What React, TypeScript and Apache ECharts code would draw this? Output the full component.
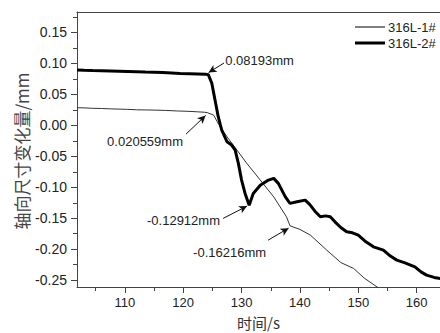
import React, { useEffect, useRef } from "react";
import * as echarts from "echarts";

const seriesNames = ["316L-1#", "316L-2#"];

const thinData: [number, number][] = [
  [101.8, 0.0284], [103, 0.0282], [104.5, 0.0275], [106, 0.0272], [107.5, 0.0266],
  [109, 0.0262], [110.5, 0.0258], [112, 0.0251], [113.5, 0.0249], [115, 0.0246],
  [117, 0.0241], [119, 0.0232], [121, 0.0226], [122.5, 0.0218], [123.6, 0.0212],
  [124.1, 0.0206], [125.2, 0.0166], [126.3, -0.002], [127.5, -0.0184], [129.2, -0.0399],
  [130.9, -0.0614], [133.2, -0.0883], [135.5, -0.1154], [137.7, -0.1477], [138.3, -0.1622],
  [140.0, -0.168], [141.8, -0.1773], [144.6, -0.2015], [147, -0.2215], [149.2, -0.2311],
  [151, -0.2465], [153.2, -0.2608], [154, -0.266],
];

const thickData: [number, number][] = [
  [101.8, 0.0894], [103, 0.0889], [104.5, 0.0885], [106, 0.0882], [107.5, 0.0878],
  [109, 0.0874], [110.5, 0.087], [112, 0.0866], [113.5, 0.086], [115, 0.0857],
  [116.5, 0.0852], [118, 0.0846], [119.5, 0.0838], [121, 0.0834], [122.5, 0.083],
  [123.8, 0.0825], [124.3, 0.0819], [124.9, 0.0679], [125.45, 0.041], [126.0, 0.0139],
  [126.6, -0.0076], [127.5, -0.0265], [128.3, -0.0318], [128.9, -0.0399], [129.45, -0.0614],
  [130.0, -0.0884], [130.6, -0.1099], [131.3, -0.1291], [132.0, -0.1099], [133.2, -0.0966],
  [134.6, -0.0884], [135.5, -0.0856], [136.3, -0.0937], [137.5, -0.1154], [138.3, -0.126],
  [139.5, -0.1235], [140.9, -0.1207], [141.7, -0.128], [142.6, -0.139], [143.5, -0.1477],
  [144.4, -0.1462], [145.2, -0.1477], [146.0, -0.1558], [147, -0.165], [148, -0.1719],
  [149, -0.1735], [150, -0.1773], [151.3, -0.188], [152.6, -0.1962], [154.3, -0.2015],
  [155.5, -0.211], [156.6, -0.2176], [158, -0.222], [159.7, -0.2285], [160.8, -0.237],
  [161.7, -0.2419], [163, -0.2455], [164.1, -0.2473],
];

const xMajorTicks = [110, 120, 130, 140, 150, 160];
const xMinorTicks = [105, 115, 125, 135, 145, 155];
const yMajorTicks = [0.15, 0.1, 0.05, 0, -0.05, -0.1, -0.15, -0.2, -0.25];
const yMinorTicks = [0.175, 0.125, 0.075, 0.025, -0.025, -0.075, -0.125, -0.175, -0.225];

const xAxisTitle = "时间/s";
const yAxisTitle = "轴向尺寸变化量/mm";

const annotationTexts = ["0.08193mm", "0.020559mm", "-0.12912mm", "-0.16216mm"];
const annotationTextPos: [number, number][] = [[127.2, 0.105], [113.46, -0.0254], [126.3, -0.153], [134.2, -0.2048]];
const annotationAlign = ["right", "inside", "left", "left"];
const arrowFrom: [number, number][] = [[127.0, 0.1007], [120.49, -0.0141], [126.83, -0.1503], [134.54, -0.1854]];
const arrowTo: [number, number][] = [[124.35, 0.0852], [123.83, 0.0158], [130.94, -0.1304], [138.06, -0.166]];

const X_MIN = 101.8, X_MAX = 164.0, Y_MIN = -0.261, Y_MAX = 0.183;
const FONT = "'Liberation Sans', Arial, sans-serif";
const CJK = "'Noto Sans CJK SC', sans-serif";

export default function App() {
  const ref = useRef<HTMLDivElement>(null);
  useEffect(() => {
    if (!ref.current) return;
    const chart = echarts.init(ref.current, undefined, { renderer: "svg" });
    const axisLineStyle = { color: "#444", width: 1 };
    const legendWidths = [1, 3];
    chart.setOption({
      animation: false,
      backgroundColor: "#fff",
      grid: { left: 77, top: 12, right: 0, bottom: 46, outerBoundsMode: "none", containLabel: false },
      graphic: [
        ...seriesNames.flatMap((n, i) => [
          {
            type: "line", silent: true,
            shape: { x1: 355, y1: 27 + i * 16, x2: 385, y2: 27 + i * 16 },
            style: { stroke: "#000", lineWidth: legendWidths[i] },
          },
          {
            type: "text", silent: true, x: 388, y: 27 + i * 16,
            style: { text: n, fontFamily: FONT, fontSize: 13, fill: "#222", verticalAlign: "middle", align: "left" },
          },
        ]),
        {
          type: "text", silent: true, x: 21, y: 151, rotation: Math.PI / 2,
          style: { text: yAxisTitle, fontFamily: CJK, fontSize: 17, fill: "#444", align: "center", verticalAlign: "middle" },
        },
      ],
      xAxis: [
        {
          type: "value", min: X_MIN, max: X_MAX, position: "bottom",
          name: xAxisTitle, nameLocation: "middle", nameGap: 27,
          nameTextStyle: { fontFamily: CJK, fontSize: 15, color: "#333", lineHeight: 17 },
          axisLine: { show: true, onZero: false, lineStyle: axisLineStyle },
          axisTick: { show: true, length: 6, inside: false, customValues: xMajorTicks, lineStyle: axisLineStyle },
          axisLabel: { show: true, margin: 9, customValues: xMajorTicks, fontFamily: FONT, fontSize: 13, color: "#222", formatter: (v: number) => String(Math.round(v)) },
          splitLine: { show: false },
        },
        {
          type: "value", min: X_MIN, max: X_MAX, position: "bottom",
          axisLine: { show: false, onZero: false },
          axisTick: { show: true, length: 4, customValues: xMinorTicks, lineStyle: axisLineStyle },
          axisLabel: { show: false },
          splitLine: { show: false },
        },
        {
          type: "value", min: X_MIN, max: X_MAX, position: "top",
          axisLine: { show: true, onZero: false, lineStyle: axisLineStyle },
          axisTick: { show: false }, axisLabel: { show: false }, splitLine: { show: false },
        },
      ],
      yAxis: [
        {
          type: "value", min: Y_MIN, max: Y_MAX, position: "left",
          axisLine: { show: true, onZero: false, lineStyle: axisLineStyle },
          axisTick: { show: true, length: 6, customValues: yMajorTicks, lineStyle: axisLineStyle },
          axisLabel: { show: true, margin: 10, customValues: yMajorTicks, fontFamily: FONT, fontSize: 14, color: "#222", formatter: (v: number) => v.toFixed(2) },
          splitLine: { show: false },
        },
        {
          type: "value", min: Y_MIN, max: Y_MAX, position: "left",
          axisLine: { show: false, onZero: false },
          axisTick: { show: true, length: 4, customValues: yMinorTicks, lineStyle: axisLineStyle },
          axisLabel: { show: false },
          splitLine: { show: false },
        },
      ],
      series: [
        {
          name: seriesNames[0], type: "line", data: thinData, xAxisIndex: 0, yAxisIndex: 0,
          symbol: "none", lineStyle: { color: "#333", width: 1 }, itemStyle: { color: "#333" },
        },
        {
          name: seriesNames[1], type: "line", data: thickData, xAxisIndex: 0, yAxisIndex: 0,
          symbol: "none", lineStyle: { color: "#000", width: 3 }, itemStyle: { color: "#000" },
          markLine: {
            silent: true, animation: false,
            symbol: ["none", "arrow"], symbolSize: [6, 8],
            lineStyle: { color: "#111", width: 1, type: "solid" },
            label: { show: false },
            data: arrowFrom.map((f, i) => [{ coord: f }, { coord: arrowTo[i] }]),
          },
          markPoint: {
            silent: true, animation: false,
            symbol: "circle", symbolSize: 0,
            data: annotationTexts.map((t, i) => ({
              coord: annotationTextPos[i],
              value: t,
              label: {
                show: true, position: annotationAlign[i], distance: 0,
                formatter: t, fontFamily: FONT, fontSize: 13, color: "#222",
              },
            })),
          },
        },
      ],
    });
    return () => chart.dispose();
  }, []);
  return <div ref={ref} style={{ width: 440, height: 333, position: "absolute", left: 0, top: 0 }} />;
}
